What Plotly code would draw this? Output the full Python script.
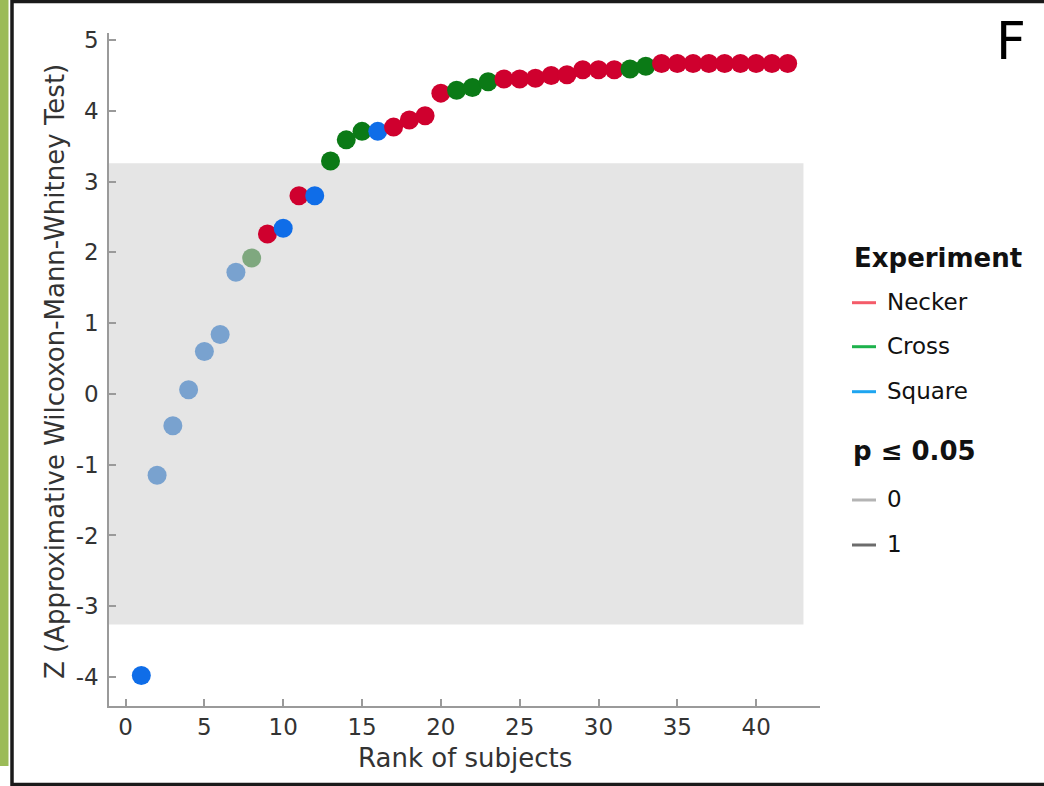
import plotly.graph_objects as go

# Rank of each subject and its Z statistic (approximative Wilcoxon-Mann-Whitney test)
rank = [1, 2, 3, 4, 5, 6, 7, 8, 9, 10, 11, 12, 13, 14, 15, 16, 17, 18, 19, 20, 21,
        22, 23, 24, 25, 26, 27, 28, 29, 30, 31, 32, 33, 34, 35, 36, 37, 38, 39, 40, 41, 42]
z_score = [-3.98, -1.15, -0.45, 0.06, 0.60, 0.84, 1.72, 1.92, 2.26, 2.34, 2.80,
           2.80, 3.29, 3.59, 3.71, 3.71, 3.77, 3.87, 3.93, 4.25, 4.29, 4.33,
           4.41, 4.45, 4.45, 4.46, 4.50, 4.51, 4.58, 4.58, 4.58, 4.59, 4.63,
           4.67, 4.67, 4.67, 4.67, 4.67, 4.67, 4.67, 4.67, 4.67]
experiment = ["Square", "Square", "Square", "Square", "Square", "Square", "Square",
              "Cross", "Necker", "Square", "Necker", "Square", "Cross", "Cross",
              "Cross", "Square", "Necker", "Necker", "Necker", "Necker", "Cross",
              "Cross", "Cross", "Necker", "Necker", "Necker", "Necker", "Necker",
              "Necker", "Necker", "Necker", "Cross", "Cross", "Necker", "Necker",
              "Necker", "Necker", "Necker", "Necker", "Necker", "Necker", "Necker"]
significant = [1, 0, 0, 0, 0, 0, 0, 0, 1, 1, 1, 1, 1, 1, 1, 1, 1, 1, 1, 1, 1,
               1, 1, 1, 1, 1, 1, 1, 1, 1, 1, 1, 1, 1, 1, 1, 1, 1, 1, 1, 1, 1]

# Critical band of |Z|
z_crit = 3.26

x_ticks = [0, 5, 10, 15, 20, 25, 30, 35, 40]
y_ticks = [5, 4, 3, 2, 1, 0, -1, -2, -3, -4]
y_tick_text = ["5", "4", "3", "2", "1", "0", "-1", "-2", "-3", "-4"]

experiments = ["Necker", "Cross", "Square"]
legend_line_colors = ["#f45b69", "#1db24c", "#1ea5f0"]
sig_levels = ["0", "1"]
sig_line_colors = ["#b4b4b4", "#6c6c6c"]

# marker colour for (experiment, significant)
point_colors = {
    ("Necker", 1): "#cf002e",
    ("Necker", 0): "#e08a98",
    ("Cross", 1): "#0b7a16",
    ("Cross", 0): "#7fa87f",
    ("Square", 1): "#0f6de8",
    ("Square", 0): "#79a2cf",
}

W, H = 1044, 786
L, R, T, B = 109, 224, 33, 80
PW, PH = W - L - R, H - T - B


def px(x):
    return (x - L) / PW


def py(y):
    return (H - B - y) / PH


FONT = "DejaVu Sans"
TXT = "#333333"

fig = go.Figure()

fig.add_trace(go.Scatter(
    x=rank,
    y=z_score,
    mode="markers",
    marker=dict(size=19,
                color=[point_colors[(e, s)] for e, s in zip(experiment, significant)],
                line=dict(width=0)),
    showlegend=False,
    hoverinfo="x+y",
))

shapes = []
# grey band between the critical values
shapes.append(dict(type="rect", xref="x", yref="y", x0=-1.05, x1=43,
                   y0=-z_crit, y1=z_crit, fillcolor="#e5e5e5",
                   line=dict(width=0), layer="below"))
# panel framing: green strip and dark border
shapes.append(dict(type="rect", xref="paper", yref="paper",
                   x0=px(-5), x1=px(8.5), y0=py(766), y1=py(-5),
                   fillcolor="#9bbb57", line=dict(width=0), layer="above"))
shapes.append(dict(type="rect", xref="paper", yref="paper",
                   x0=px(12), x1=px(1070), y0=py(784.5), y1=py(1.5),
                   fillcolor="rgba(0,0,0,0)", line=dict(width=3.5, color="#1a1a1a"),
                   layer="above"))

annotations = []
# legend: Experiment
annotations.append(dict(xref="paper", yref="paper", x=px(852), y=py(258),
                        xanchor="left", yanchor="middle", showarrow=False,
                        text="<b>Experiment</b>",
                        font=dict(family=FONT, size=26, color="#111111")))
exp_rows = [302.7, 346.7, 391.7]
for name, col, yy in zip(experiments, legend_line_colors, exp_rows):
    shapes.append(dict(type="line", xref="paper", yref="paper",
                       x0=px(852), x1=px(876), y0=py(yy), y1=py(yy),
                       line=dict(color=col, width=3)))
    annotations.append(dict(xref="paper", yref="paper", x=px(885), y=py(yy - 1),
                            xanchor="left", yanchor="middle", showarrow=False,
                            text=name, font=dict(family=FONT, size=23, color="#111111")))
# legend: significance
annotations.append(dict(xref="paper", yref="paper", x=px(851), y=py(451),
                        xanchor="left", yanchor="middle", showarrow=False,
                        text="<b>p ≤ 0.05</b>",
                        font=dict(family=FONT, size=26, color="#111111")))
sig_rows = [500, 545]
for name, col, yy in zip(sig_levels, sig_line_colors, sig_rows):
    shapes.append(dict(type="line", xref="paper", yref="paper",
                       x0=px(852), x1=px(876), y0=py(yy), y1=py(yy),
                       line=dict(color=col, width=3)))
    annotations.append(dict(xref="paper", yref="paper", x=px(885), y=py(yy - 1),
                            xanchor="left", yanchor="middle", showarrow=False,
                            text=name, font=dict(family=FONT, size=23, color="#111111")))

# axis titles
annotations.append(dict(xref="paper", yref="paper", x=px(464.5), y=py(758),
                        xanchor="center", yanchor="middle", showarrow=False,
                        text="Rank of subjects",
                        font=dict(family=FONT, size=26, color=TXT)))
annotations.append(dict(xref="paper", yref="paper", x=px(55), y=py(372),
                        xanchor="center", yanchor="middle", showarrow=False,
                        textangle=-90,
                        text="Z (Approximative Wilcoxon-Mann-Whitney Test)",
                        font=dict(family=FONT, size=26, color=TXT)))
# panel letter
annotations.append(dict(xref="paper", yref="paper", x=px(1011), y=py(41),
                        xanchor="center", yanchor="middle", showarrow=False,
                        text="F", font=dict(family=FONT, size=52, color="#000000")))

axis_common = dict(showgrid=False, zeroline=False, showline=True,
                   linecolor="#9a9a9a", linewidth=1.5,
                   ticks="inside", ticklen=7, tickwidth=1.5, tickcolor="#9a9a9a",
                   tickfont=dict(family=FONT, size=23, color=TXT))

fig.update_layout(
    width=W, height=H,
    margin=dict(l=L, r=R, t=T, b=B),
    paper_bgcolor="white",
    plot_bgcolor="white",
    xaxis=dict(range=[-1.05, 44.05], tickvals=x_ticks, ticklabelstandoff=0,
               **axis_common),
    yaxis=dict(range=[-4.41, 5.1], tickvals=y_ticks, ticktext=y_tick_text,
               ticklabelstandoff=4, **axis_common),
    shapes=shapes,
    annotations=annotations,
    showlegend=False,
)

fig.write_html("out.html")
